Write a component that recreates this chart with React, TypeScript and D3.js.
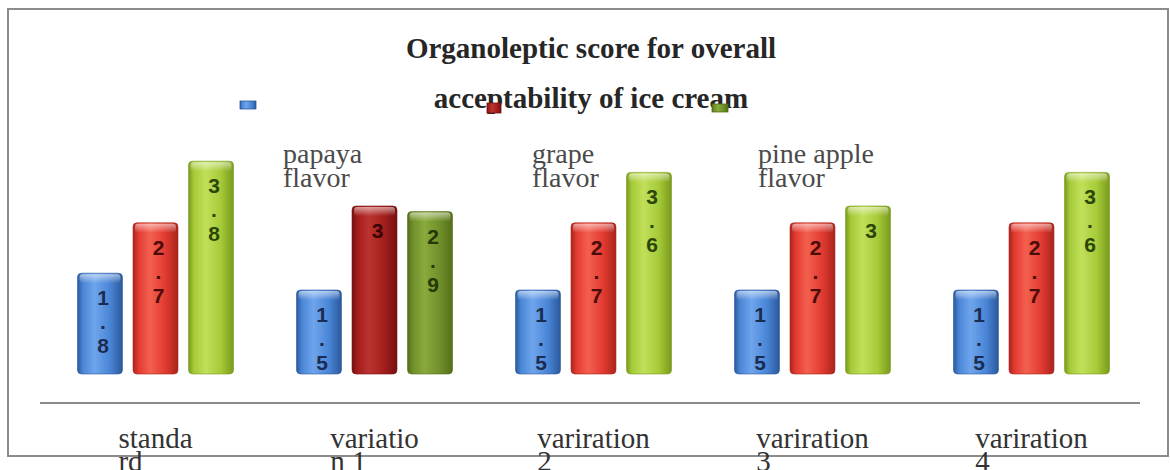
import React, { useEffect, useRef } from "react";
import * as d3 from "d3";

// ---- data ----
const categoryLines: string[][] = [
  ["standa", "rd"],
  ["variatio", "n 1"],
  ["variration", "2"],
  ["variration", "3"],
  ["variration", "4"],
];
const categories = categoryLines.map((l) => l.join(" "));
const seriesNames = ["papaya flavor", "grape flavor", "pine apple flavor"];
const papayaValues = [1.8, 1.5, 1.5, 1.5, 1.5];
const grapeValues = [2.7, 3, 2.7, 2.7, 2.7];
const pineAppleValues = [3.8, 2.9, 3.6, 3, 3.6];
const seriesValues = [papayaValues, grapeValues, pineAppleValues];
const titleLines = ["Organoleptic score for overall", "acceptability of ice cream"];
const legendLabelLines: string[][] = [
  ["papaya", "flavor"],
  ["grape", "flavor"],
  ["pine apple", "flavor"],
];

type Pal = { dark: string; mid: string; light: string; text: string };
const palettes: Pal[] = [
  { dark: "#2b589c", mid: "#4a86d6", light: "#6ea4ec", text: "#1b2c52" },
  { dark: "#a8241c", mid: "#e23a30", light: "#f3604f", text: "#4a0c08" },
  { dark: "#7a9a1c", mid: "#a6ca38", light: "#c0e05a", text: "#2c4608" },
];
const darkPalettes: Pal[] = [
  palettes[0],
  { dark: "#741010", mid: "#a41d1c", light: "#bb3430", text: "#3a0504" },
  { dark: "#546e18", mid: "#708f2a", light: "#89aa3c", text: "#263806" },
];

export default function App() {
  const ref = useRef<SVGSVGElement | null>(null);

  useEffect(() => {
    const svg = d3.select(ref.current);
    svg.selectAll("*").remove();

    const x0 = d3.scaleBand<string>().domain(categories).range([46, 1141]).padding(0);
    const x1 = d3.scaleBand<string>().domain(seriesNames).range([31.5, 187.5]).paddingInner(0.19);
    const y = d3.scaleLinear().domain([0, 4]).range([374, 150]);

    const defs = svg.append("defs");
    const makeGrad = (id: string, p: Pal) => {
      const g = defs.append("linearGradient").attr("id", id).attr("x1", 0).attr("x2", 1).attr("y1", 0).attr("y2", 0);
      [
        [0, p.dark],
        [0.12, p.mid],
        [0.38, p.light],
        [0.72, p.mid],
        [1, p.dark],
      ].forEach(([o, c]) => g.append("stop").attr("offset", o as number).attr("stop-color", c as string));
    };
    palettes.forEach((p, i) => makeGrad(`g${i}`, p));
    darkPalettes.forEach((p, i) => makeGrad(`d${i}`, p));
    const hl = defs.append("linearGradient").attr("id", "hl").attr("x1", 0).attr("x2", 0).attr("y1", 0).attr("y2", 1);
    hl.append("stop").attr("offset", 0).attr("stop-color", "#fff").attr("stop-opacity", 0.55);
    hl.append("stop").attr("offset", 1).attr("stop-color", "#fff").attr("stop-opacity", 0);

    svg.append("rect").attr("x", 0).attr("y", 0).attr("width", 1170).attr("height", 470).attr("fill", "#fff");

    // border
    svg
      .append("rect")
      .attr("x", 8)
      .attr("y", 9)
      .attr("width", 1160)
      .attr("height", 447)
      .attr("fill", "none")
      .attr("stroke", "#8c8c8c")
      .attr("stroke-width", 2);

    // axis line
    svg
      .append("line")
      .attr("x1", 40)
      .attr("x2", 1140)
      .attr("y1", 403)
      .attr("y2", 403)
      .attr("stroke", "#8a8a8a")
      .attr("stroke-width", 2);

    // bars
    categories.forEach((cat, ci) => {
      const gx = x0(cat)!;
      seriesNames.forEach((s, si) => {
        const v = seriesValues[si][ci];
        const pal = ci === 1 ? darkPalettes[si] : palettes[si];
        const gid = ci === 1 ? `d${si}` : `g${si}`;
        const bx = gx + x1(s)!;
        const bw = x1.bandwidth();
        const top = y(v);
        const h = y(0) - top;
        const g = svg.append("g");
        g.append("rect")
          .attr("x", bx)
          .attr("y", top)
          .attr("width", bw)
          .attr("height", h)
          .attr("rx", 4)
          .attr("fill", `url(#${gid})`)
          .attr("stroke", pal.dark)
          .attr("stroke-opacity", 0.6)
          .attr("stroke-width", 1);
        g.append("rect")
          .attr("x", bx + 2)
          .attr("y", top + 1)
          .attr("width", bw - 4)
          .attr("height", 9)
          .attr("rx", 3)
          .attr("fill", "url(#hl)");
        const chars = String(v).split("");
        chars.forEach((ch, k) => {
          g.append("text")
            .attr("x", bx + bw / 2 + 3)
            .attr("y", top + 32 + k * 24)
            .attr("text-anchor", "middle")
            .attr("font-family", "'Liberation Sans', Arial, sans-serif")
            .attr("font-weight", "bold")
            .attr("font-size", 21)
            .attr("fill", pal.text)
            .text(ch);
        });
      });
    });

    // category labels
    categories.forEach((cat, ci) => {
      const cx = x0(cat)! + x0.bandwidth() / 2;
      const first = svg
        .append("text")
        .attr("x", cx)
        .attr("y", 448)
        .attr("text-anchor", "middle")
        .attr("font-family", "'Liberation Serif', 'Times New Roman', serif")
        .attr("font-size", 29)
        .attr("fill", "#333")
        .text(categoryLines[ci][0]);
      const w = (first.node() as SVGTextElement).getComputedTextLength();
      svg
        .append("text")
        .attr("x", cx - w / 2)
        .attr("y", 471)
        .attr("font-family", "'Liberation Serif', 'Times New Roman', serif")
        .attr("font-size", 29)
        .attr("fill", "#333")
        .text(categoryLines[ci][1]);
    });

    // title
    titleLines.forEach((t, i) => {
      svg
        .append("text")
        .attr("x", 591)
        .attr("y", 58 + i * 50)
        .attr("text-anchor", "middle")
        .attr("font-family", "'Liberation Serif', 'Times New Roman', serif")
        .attr("font-weight", "bold")
        .attr("font-size", 29)
        .attr("fill", "#262626")
        .text(t);
    });

    // legend labels
    const legendX = [283, 532, 758];
    legendLabelLines.forEach((lines, i) => {
      lines.forEach((l, k) => {
        svg
          .append("text")
          .attr("x", legendX[i])
          .attr("y", 163 + k * 24)
          .attr("font-family", "'Liberation Serif', 'Times New Roman', serif")
          .attr("font-size", 28)
          .attr("fill", "#4a4a4a")
          .text(l);
      });
    });

    // legend markers
    const markers = [
      [240, 101, 16, 8],
      [487, 103, 14, 10],
      [712, 104, 16, 8],
    ];
    markers.forEach(([mx, my, mw, mh], i) => {
      svg
        .append("rect")
        .attr("x", mx)
        .attr("y", my)
        .attr("width", mw)
        .attr("height", mh)
        .attr("fill", `url(#${i === 0 ? "g0" : "d" + i})`)
        .attr("stroke", darkPalettes[i].dark)
        .attr("stroke-width", 0.8);
    });
  }, []);

  return (
    <svg
      ref={ref}
      width={1170}
      height={470}
      style={{ position: "absolute", left: 0, top: 0, display: "block" }}
    />
  );
}
